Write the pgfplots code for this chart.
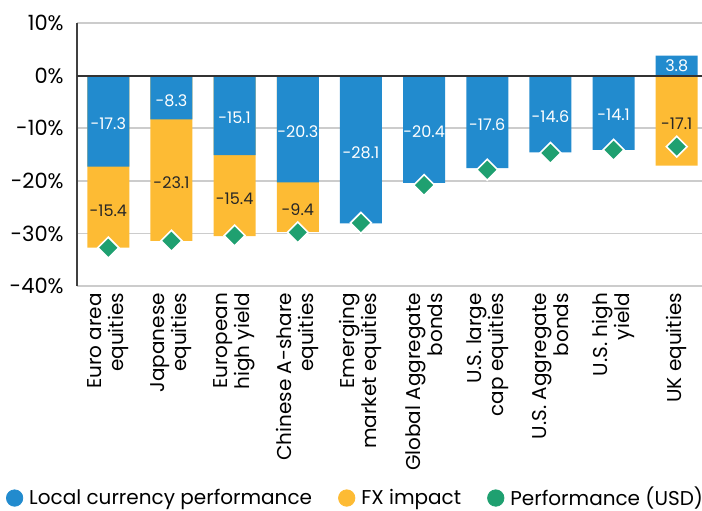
\documentclass[border=0pt]{standalone}
\usepackage{fontspec}
\setmainfont{Poppins}
\usepackage{pgfplots}
\pgfplotsset{compat=1.18}
\usetikzlibrary{calc}

\definecolor{lcblue}{RGB}{34,139,206}
\definecolor{fxorange}{RGB}{253,187,52}
\definecolor{perfgreen}{RGB}{31,160,112}
\definecolor{gridgray}{RGB}{204,204,204}

\begin{document}
\begin{tikzpicture}
\begin{axis}[
    name=ax,
    scale only axis,
    width=312.6pt, height=131.5pt,
    xmin=-0.5, xmax=9.4,
    ymin=-40, ymax=10,
    axis x line*=bottom,
    axis y line*=left,
    x axis line style={draw=gridgray, line width=0.8pt},
    y axis line style={draw=black!75, line width=0.8pt},
    major tick length=0pt,
    ymajorgrids,
    grid style={gridgray, line width=0.8pt},
    ytick={-40,-30,...,10},
    yticklabels={-40\%,-30\%,-20\%,-10\%,0\%,10\%},
    y tick label style={font=\fontsize{10.5}{12}\selectfont, xshift=-3pt},
    xtick={0,...,9},
    xticklabels={{Euro area\\equities},{Japanese\\equities},{European\\high yield},
      {Chinese A-share\\equities},{Emerging\\market equities},{Global Aggregate\\bonds},
      {U.S. large\\cap equities},{U.S. Aggregate\\bonds},{U.S. high\\yield},{UK equities}},
    x tick label style={rotate=90, anchor=east, align=right,
      font=\fontsize{10}{11}\selectfont},
    legend style={at={(0.4475,-0.806)}, anchor=center, draw=none, fill=none,
      font=\fontsize{10}{12}\selectfont, legend columns=3,
      /tikz/every odd column/.append style={column sep=1pt},
      /tikz/every even column/.append style={column sep=11pt}},
]

% legend
\addlegendimage{legend image code/.code={\fill[lcblue] (0pt,0pt) circle (4.1pt);}}
\addlegendentry{Local currency performance}
\addlegendimage{legend image code/.code={\fill[fxorange] (0pt,0pt) circle (4.1pt);}}
\addlegendentry{FX impact}
\addlegendimage{legend image code/.code={\fill[perfgreen] (0pt,0pt) circle (4.1pt);}}
\addlegendentry{Performance (USD)}

% FX impact: bottom of each stack (local + FX, UK from zero)
\addplot[ybar, bar width=21pt, bar shift=0pt, fill=fxorange, draw=none, forget plot]
  coordinates {(0,-32.7) (1,-31.4) (2,-30.5) (3,-29.7) (9,-17.1)};

% local currency performance
\addplot[ybar, bar width=21pt, bar shift=0pt, fill=lcblue, draw=none, forget plot]
  coordinates {(0,-17.3) (1,-8.3) (2,-15.1) (3,-20.3) (4,-28.1)
               (5,-20.4) (6,-17.6) (7,-14.6) (8,-14.1) (9,3.8)};

% zero line
\addplot[black!80, line width=0.9pt, forget plot] coordinates {(-0.5,0) (9.4,0)};

% labels on blue segments
\addplot[draw=none, forget plot, nodes near coords, point meta=explicit symbolic,
  nodes near coords style={anchor=center, text=white, font=\fontsize{8}{9}\selectfont}]
  table[meta=lab] {
x y lab
0 -9.2 -17.3
1 -4.7 -8.3
2 -8.1 -15.1
3 -10.7 -20.3
4 -14.6 -28.1
5 -10.7 -20.4
6 -9.3 -17.6
7 -7.8 -14.6
8 -7.5 -14.1
9 1.9 3.8
};

% labels on orange segments
\addplot[draw=none, forget plot, nodes near coords, point meta=explicit symbolic,
  nodes near coords style={anchor=center, text=black!85, font=\fontsize{8}{9}\selectfont}]
  table[meta=lab] {
x y lab
0 -25.6 -15.4
1 -20.4 -23.1
2 -23.4 -15.4
3 -25.5 -9.4
9 -9.1 -17.1
};

% performance in USD
\addplot[only marks, mark=square*, mark size=3.7pt, forget plot,
  mark options={rotate=45, fill=perfgreen, draw=white, line width=0.8pt}]
  coordinates {(0,-32.7) (1,-31.4) (2,-30.4) (3,-29.8) (4,-28.0)
               (5,-20.8) (6,-17.9) (7,-14.7) (8,-14.1) (9,-13.5)};
\end{axis}
\pgfresetboundingbox
\path[use as bounding box] ($(ax.south west)+(-38.35pt,-112pt)$) rectangle ($(ax.north east)+(0pt,11.5pt)$);
\end{tikzpicture}
\end{document}
